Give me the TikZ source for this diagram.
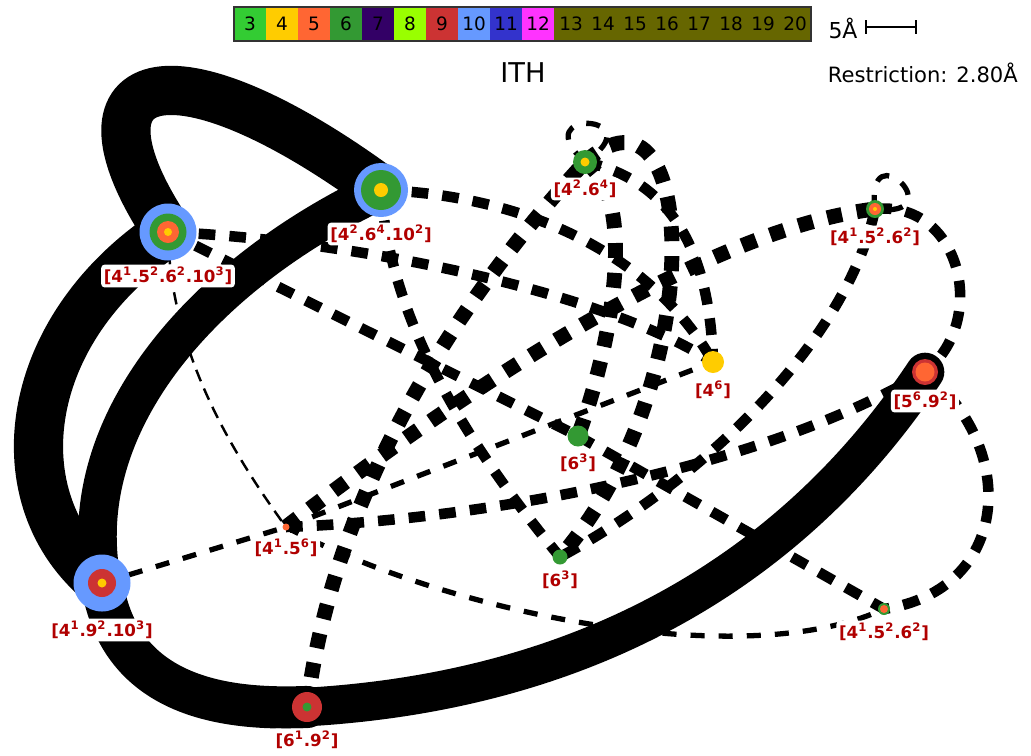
\documentclass[tikz,border=0pt]{standalone}
\usepackage{fontspec}
\setmainfont{DejaVu Sans}
\usetikzlibrary{backgrounds}
\definecolor{c3}{HTML}{33CC33}
\definecolor{c4}{HTML}{FFCC00}
\definecolor{c5}{HTML}{FF6633}
\definecolor{c6}{HTML}{339933}
\definecolor{c7}{HTML}{330066}
\definecolor{c8}{HTML}{99FF00}
\definecolor{c9}{HTML}{CC3333}
\definecolor{c10}{HTML}{6699FF}
\definecolor{c11}{HTML}{3333CC}
\definecolor{c12}{HTML}{FF33FF}
\definecolor{c13}{HTML}{666600}
\definecolor{lblred}{HTML}{B00000}
\begin{document}
\begin{tikzpicture}[
    x=0.02cm, y=-0.02cm,
    ring/.style={circle, inner sep=0pt, minimum size=#1*0.02cm},
    lbl/.style={fill=white, rounded corners=2pt, inner sep=1.5pt, text=lblred, font=\bfseries\fontsize{9.5}{10}\selectfont},
    cell/.style={inner sep=0pt, minimum width=32*0.02cm, minimum height=34*0.02cm, font=\fontsize{10.5}{10.5}\selectfont},
    band/.style={line width=#1, line cap=round},
    dthin/.style={line width=1.4pt, dash pattern=on 7pt off 4.5pt},
    dmed/.style={line width=3pt, dash pattern=on 8pt off 8pt},
    dthick/.style={line width=6pt, dash pattern=on 9.5pt off 8pt},
    dheavy/.style={line width=8.5pt, dash pattern=on 8.5pt off 8.5pt}
]
    \useasboundingbox (0,0) rectangle (1031,755);

    % colour bar
    \foreach \n [count=\i from 0] in {3,...,12}
        \node[cell, fill=c\n] (cb\n) at (250+32*\i, 24) {\n};
    \node[cell, fill=c13, minimum width=257*0.02cm] (cbrest) at (682.5, 24) {};
    \foreach \n [count=\i from 0] in {13,...,20}
        \node[cell, minimum width=30*0.02cm] (cb\n) at (571+32*\i, 24) {\n};
    \draw[line width=1.2pt, black!80] (234,7) rectangle (811,41);

    % scale and title
    \node[font=\fontsize{12.5}{13}\selectfont] (five) at (843, 28) {5Å};
    \draw[line width=0.9pt] (866,27) -- (916,27);
    \draw[line width=0.9pt] (866,20) -- (866,34);
    \draw[line width=0.9pt] (916,20) -- (916,34);
    \node[font=\fontsize{15.5}{16}\selectfont] (title) at (523, 73) {ITH};
    \node[font=\fontsize{12}{12}\selectfont, anchor=east] (restr) at (1024, 73) {Restriction: 2.80Å};

    % vertices
    \node[ring=57, fill=c10] (A) at (168,232) {};
    \node[ring=37, fill=c6] (A2) at (A) {};
    \node[ring=22, fill=c5] (A3) at (A) {};
    \node[ring=8, fill=c4] (A4) at (A) {};

    \node[ring=54, fill=c10] (B) at (381,190) {};
    \node[ring=40, fill=c6] (B2) at (B) {};
    \node[ring=14, fill=c4] (B3) at (B) {};

    \node[ring=24, fill=c6] (C) at (585,162) {};
    \node[ring=9, fill=c4] (C2) at (C) {};

    \node[ring=18, fill=c6] (D) at (875,209) {};
    \node[ring=12, fill=c5] (D2) at (D) {};
    \node[ring=4, fill=c4] (D3) at (D) {};

    \node[ring=22, fill=c4] (E) at (713,362) {};

    \node[ring=26, fill=c9] (F) at (925,372) {};
    \node[ring=19, fill=c5] (F2) at (F) {};

    \node[ring=21, fill=c6] (G) at (578,436) {};

    \node[ring=7, fill=c5] (H) at (286,527) {};

    \node[ring=15, fill=c6] (I) at (560,557) {};

    \node[ring=57, fill=c10] (J) at (102,583) {};
    \node[ring=28, fill=c9] (J2) at (J) {};
    \node[ring=9, fill=c4] (J3) at (J) {};

    \node[ring=12, fill=c6] (K) at (884,609) {};
    \node[ring=8, fill=c5] (K2) at (K) {};

    \node[ring=30, fill=c9] (L) at (307,707) {};
    \node[ring=9, fill=c6] (L2) at (L) {};

    % labels
    \node[lbl] (lA) at (168,276) {[4\textsuperscript{1}.5\textsuperscript{2}.6\textsuperscript{2}.10\textsuperscript{3}]};
    \node[lbl] (lB) at (381,234) {[4\textsuperscript{2}.6\textsuperscript{4}.10\textsuperscript{2}]};
    \node[lbl] (lC) at (585,189) {[4\textsuperscript{2}.6\textsuperscript{4}]};
    \node[lbl] (lD) at (875,237) {[4\textsuperscript{1}.5\textsuperscript{2}.6\textsuperscript{2}]};
    \node[lbl] (lE) at (713,390) {[4\textsuperscript{6}]};
    \node[lbl] (lF) at (925,401) {[5\textsuperscript{6}.9\textsuperscript{2}]};
    \node[lbl] (lG) at (578,463) {[6\textsuperscript{3}]};
    \node[lbl] (lH) at (286,548) {[4\textsuperscript{1}.5\textsuperscript{6}]};
    \node[lbl] (lI) at (560,580) {[6\textsuperscript{3}]};
    \node[lbl] (lJ) at (102,630) {[4\textsuperscript{1}.9\textsuperscript{2}.10\textsuperscript{3}]};
    \node[lbl] (lK) at (884,632) {[4\textsuperscript{1}.5\textsuperscript{2}.6\textsuperscript{2}]};
    \node[lbl] (lL) at (307,740) {[6\textsuperscript{1}.9\textsuperscript{2}]};

    \begin{pgfonlayer}{background}
    % short bonds
    \draw[band=28pt] (A.center) .. controls (60,70) and (170,35) .. (B.center);
    \draw[band=28pt] (A.center) .. controls (20,330) and (0,500) .. (J.center);
    \draw[band=22pt] (B.center) .. controls (210,270) and (70,420) .. (J.center);
    \draw[band=24pt] (J.center) .. controls (120,700) and (230,710) .. (L.center);
    \draw[band=22pt] (L.center) .. controls (600,690) and (800,560) .. (F.center);
    \fill (F) circle[radius=0.34cm];

    % long bonds
    \draw[dthin] (A.center) .. controls (170,350) and (230,450) .. (H.center);
    \draw[dmed] (J.center) -- (H.center);
    \draw[dmed] (H.center) -- (E.center);
    \draw[dmed] (H.center) .. controls (440,610) and (740,675) .. (K.center);
    \draw[dthick] (H.center) .. controls (480,520) and (760,470) .. (F.center);
    \draw[dthick] (A.center) .. controls (350,240) and (600,290) .. (E.center);
    \draw[dthick] (A.center) -- (G.center);
    \draw[dthick] (G.center) -- (K.center);
    \draw[dthick] (B.center) .. controls (520,195) and (650,250) .. (E.center);
    \draw[dthick] (B.center) .. controls (390,330) and (480,460) .. (I.center);
    \draw[dheavy] (L.center) .. controls (330,520) and (430,330) .. (C.center);
    \draw[dheavy] (H.center) .. controls (450,400) and (700,230) .. (D.center);
    \draw[dheavy] (C.center) .. controls (700,60) and (710,385) .. (I.center);
    \draw[dheavy] (C.center) .. controls (640,200) and (610,350) .. (G.center);
    \draw[dthick] (C.center) .. controls (670,180) and (710,250) .. (E.center);
    \draw[dmed] (C.center) .. controls +(-62,-55) and +(72,-48) .. (C.center);
    \draw[dmed] (D.center) .. controls +(-10,-80) and +(80,10) .. (D.center);
    \draw[dthick] (D.center) .. controls (850,330) and (720,470) .. (I.center);
    \draw[dthick] (D.center) .. controls (960,200) and (990,320) .. (F.center);
    \draw[dthick] (F.center) .. controls (1020,450) and (1010,590) .. (K.center);
    \end{pgfonlayer}
\end{tikzpicture}
\end{document}
